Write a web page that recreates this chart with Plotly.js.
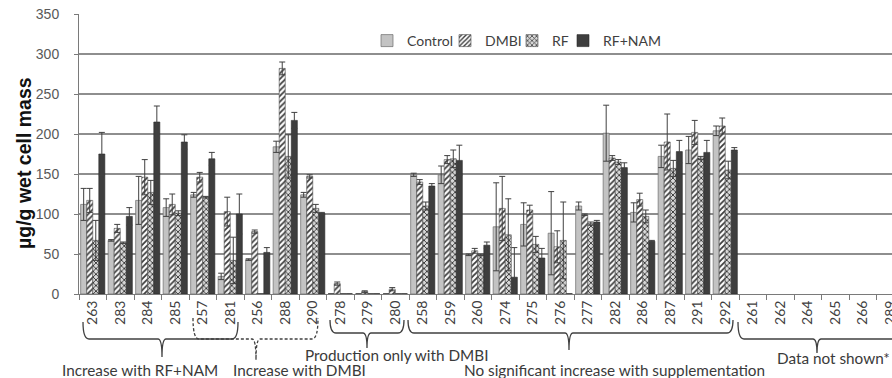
<!DOCTYPE html>
<html>
<head>
<meta charset="utf-8">
<script src="https://cdn.plot.ly/plotly-3.0.1.min.js"></script>
<style>
html, body { margin: 0; padding: 0; overflow: hidden; background: #fff; }
#chart { width: 906px; height: 378px; }
</style>
</head>
<body>
<div id="chart"></div>
<script>
const categories = ['263','283','284','285','257','281','256','288','290','278','279','280','258','259','260','274','275','276','277','282','286','287','291','292','261','262','264','265','266','289'];

const control    = [112, 67, 117, 108, 124, 22, 43, 184, 124, 0, 0, 0, 149, 149, 49, 84, 87, 76, 110, 201, 102, 172, 180, 204, null, null, null, null, null, null];
const controlErr = [20, 1, 30, 11, 3, 4, 1, 7, 3, 0, 0, 0, 2, 11, 1, 55, 27, 52, 5, 35, 12, 14, 17, 6, null, null, null, null, null, null];
const dmbi       = [117, 82, 146, 112, 146, 103, 78, 282, 147, 13, 3, 6, 140, 168, 54, 107, 105, 59, 99, 170, 118, 190, 202, 210, null, null, null, null, null, null];
const dmbiErr    = [15, 5, 22, 13, 6, 18, 2, 8, 2, 2, 1, 2, 3, 5, 3, 40, 6, 20, 1, 3, 8, 35, 15, 10, null, null, null, null, null, null];
const rf         = [67, 64, 127, 101, 121, 42, 0, 172, 107, 0, 0, 0, 110, 169, 49, 74, 62, 67, 88, 165, 97, 157, 170, 155, null, null, null, null, null, null];
const rfErr      = [25, 1, 15, 3, 1, 29, 0, 27, 5, 0, 0, 0, 5, 11, 1, 45, 10, 48, 2, 3, 8, 10, 2, 11, null, null, null, null, null, null];
const rfNam      = [175, 97, 215, 190, 169, 100, 52, 217, 101, 0, 0, 0, 135, 167, 61, 21, 45, 0, 90, 158, 66, 178, 177, 180, null, null, null, null, null, null];
const rfNamErr   = [27, 11, 20, 9, 8, 25, 6, 10, 1, 0, 0, 0, 3, 19, 4, 37, 12, 0, 2, 6, 1, 14, 15, 3, null, null, null, null, null, null];

const seriesNames = ['Control', 'DMBI', 'RF', 'RF+NAM'];
const yTicks = [0, 50, 100, 150, 200, 250, 300, 350];
const yTitle = 'µg/g wet cell mass';

const groupLabels = ['Increase with RF+NAM', 'Increase with DMBI', 'Production only with DMBI', 'No significant increase with supplementation', 'Data not shown*'];

// layout geometry (pixels)
const W = 906, H = 378, ML = 79, MT = 14, MB = 84, MR = 2;
const PW = W - ML - MR, PH = H - MT - MB;
const px = x => (x - ML) / PW;
const py = y => (H - MB - y) / PH;

function err(arr) {
  return { type: 'data', array: arr, visible: true, color: '#404040', thickness: 1, width: 3 };
}
const edge = { color: '#4a4a4a', width: 0.6 };

const traces = [
  { type: 'bar', name: seriesNames[0], legend: 'legend', x: categories, y: control, error_y: err(controlErr),
    marker: { color: '#c3c3c3', line: { color: '#6a6a6a', width: 0.7 } } },
  { type: 'bar', name: seriesNames[1], legend: 'legend2', x: categories, y: dmbi, error_y: err(dmbiErr),
    marker: { color: '#ffffff', line: edge,
      pattern: { shape: '/', fgcolor: '#3c3c3c', bgcolor: '#ffffff', size: 4, solidity: 0.45, fillmode: 'replace' } } },
  { type: 'bar', name: seriesNames[2], legend: 'legend3', x: categories, y: rf, error_y: err(rfErr),
    marker: { color: '#b8b8b8', line: edge,
      pattern: { shape: 'x', fgcolor: '#333333', bgcolor: '#d8d8d8', size: 4, solidity: 0.4, fillmode: 'replace' } } },
  { type: 'bar', name: seriesNames[3], legend: 'legend4', x: categories, y: rfNam, error_y: err(rfNamErr),
    marker: { color: '#3e3e3e', line: { color: '#2a2a2a', width: 0.6 } } }
];

function brace(x0, x1, xt, yTop, yMid, yTip, dash) {
  const r = 6;
  const pts = `M${px(x0)},${py(yTop)} Q${px(x0)},${py(yMid)} ${px(x0 + r)},${py(yMid)} ` +
    `L${px(xt - 4)},${py(yMid)} Q${px(xt)},${py(yMid)} ${px(xt)},${py(yTip)} ` +
    `Q${px(xt)},${py(yMid)} ${px(xt + 4)},${py(yMid)} L${px(x1 - r)},${py(yMid)} ` +
    `Q${px(x1)},${py(yMid)} ${px(x1)},${py(yTop)}`;
  return { type: 'path', xref: 'paper', yref: 'paper', path: pts,
    line: { color: '#404040', width: 1.3, dash: dash ? '3px,2px' : 'solid' } };
}

const shapes = [
  brace(83, 238, 162, 322, 339, 357, false),
  brace(193, 318, 256, 318, 339, 360, true),
  brace(330, 404, 367, 320, 333, 348, false),
  brace(408, 733, 569, 320, 333, 350, false),
  brace(738, 900, 817, 322, 339, 353, false)
];

const annFont = { family: 'Lato, "Open Sans", sans-serif', size: 15.3, color: '#3a3a3a' };
function ann(text, x, y, anchor) {
  return { text: text, xref: 'paper', yref: 'paper', x: px(x), y: py(y), xanchor: anchor || 'center',
    yanchor: 'middle', showarrow: false, font: annFont };
}
const annotations = [
  ann(groupLabels[0], 139.5, 370),
  ann(groupLabels[1], 299.5, 370),
  ann(groupLabels[2], 396, 355),
  ann(groupLabels[3], 614, 370),
  ann(groupLabels[4], 775, 358, 'left'),
  { text: yTitle, xref: 'paper', yref: 'paper', x: px(24), y: py(163), xanchor: 'center', yanchor: 'middle',
    textangle: -90, showarrow: false,
    font: { family: '"Liberation Sans", Arial, sans-serif', size: 19.5, color: '#111111', weight: 'bold' } }
];

const legFont = { family: 'Lato, "Open Sans", sans-serif', size: 14, color: '#404040' };
function leg(iconCenter) {
  return { orientation: 'h', x: px(iconCenter - 21), y: py(41), xanchor: 'left', yanchor: 'middle',
    font: legFont, bgcolor: 'rgba(0,0,0,0)', itemwidth: 30, borderwidth: 0 };
}

const layout = {
  width: W, height: H,
  margin: { l: ML, r: MR, t: MT, b: MB, pad: 0 },
  paper_bgcolor: '#ffffff', plot_bgcolor: '#ffffff',
  barmode: 'group', bargap: 0.12, bargroupgap: 0,
  showlegend: true,
  legend: leg(388),
  legend2: leg(466),
  legend3: leg(533),
  legend4: leg(584),
  xaxis: {
    type: 'category', range: [-0.5, 29.5], autorange: false,
    tickangle: -90, ticks: 'outside', tickson: 'boundaries', ticklen: 5, tickcolor: '#7a7a7a',
    showline: true, linecolor: '#7a7a7a', linewidth: 1, showgrid: false,
    tickfont: { family: 'Lato, "Open Sans", sans-serif', size: 14, color: '#404040' },
    automargin: false, fixedrange: true
  },
  yaxis: {
    range: [0, 350], autorange: false, tickvals: yTicks, ticktext: yTicks.map(String),
    ticks: 'outside', ticklen: 4, tickcolor: '#7a7a7a', ticklabelstandoff: 12,
    showline: true, linecolor: '#7a7a7a', linewidth: 1,
    showgrid: true, gridcolor: '#8e8e8e', gridwidth: 1.2, zeroline: false,
    tickfont: { family: '"Liberation Sans", Arial, sans-serif', size: 14, color: '#595959' },
    automargin: false, fixedrange: true
  },
  shapes: shapes,
  annotations: annotations
};

Plotly.newPlot('chart', traces, layout, { displayModeBar: false, staticPlot: true });
</script>
</body>
</html>
